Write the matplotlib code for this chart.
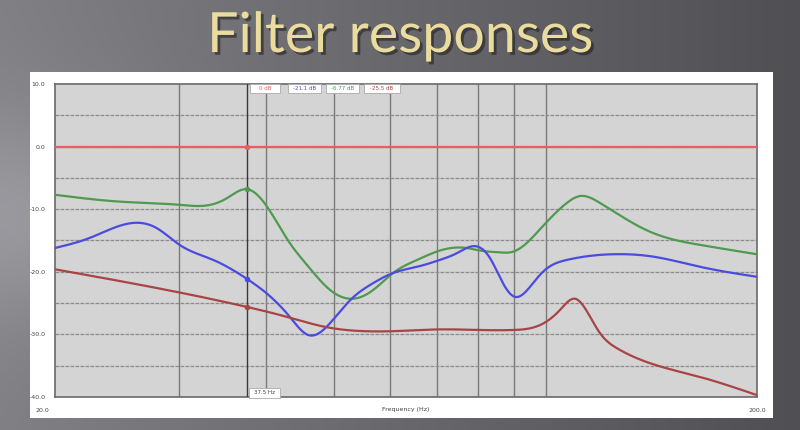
import numpy as np
import matplotlib
matplotlib.use("Agg")
import matplotlib.pyplot as plt
import matplotlib.patheffects as pe
from matplotlib.patches import Rectangle

# Data (Hz, dB)
flat_f = [20.0, 200.0]
flat_db = [0.0, 0.0]

green_f = [20.0, 24.8, 30.1, 33.3, 35.2, 37.5, 40.1, 43.2, 45.7, 49.3, 53.2,
           56.8, 60.6, 65.6, 70.7, 77.2, 80.6, 86.1, 89.8, 95.0, 99.1, 107.2,
           111.9, 119.5, 140.8, 165.9, 200.0]
green_db = [-7.7, -8.8, -9.3, -9.3, -8.2, -6.8, -9.6, -15.4, -18.9, -22.9, -24.3,
            -22.9, -20.2, -18.1, -16.6, -16.2, -16.6, -16.9, -16.8, -14.9, -12.7, -9.0,
            -7.9, -9.0, -13.6, -15.7, -17.2]

blue_f = [20.0, 22.4, 25.8, 27.9, 30.1, 33.6, 37.5, 40.1, 43.2, 45.9, 49.3,
          52.7, 56.8, 60.6, 65.6, 70.7, 74.8, 79.3, 83.3, 86.9, 90.4, 95.0,
          99.1, 107.2, 119.5, 130.5, 140.8, 165.9, 200.0]
blue_db = [-16.2, -14.6, -12.2, -13.0, -15.7, -18.1, -21.1, -23.5, -27.2, -30.1, -28.2,
           -24.5, -21.8, -20.2, -19.2, -18.1, -17.0, -15.9, -17.8, -21.8, -24.0, -22.4,
           -20.0, -18.1, -17.3, -17.2, -17.5, -19.2, -20.8]

red_f = [20.0, 37.5, 42.8, 48.5, 55.7, 60.0, 70.7, 80.6, 89.8, 98.2, 104.8,
         110.1, 114.9, 119.5, 126.3, 140.8, 165.9, 200.0]
red_db = [-19.6, -25.6, -27.2, -28.8, -29.5, -29.5, -29.2, -29.3, -29.3, -28.5, -26.1,
          -24.3, -26.6, -29.8, -32.2, -34.6, -36.8, -39.7]

cursor_hz = 37.5
readouts = ["0 dB", "-21.1 dB", "-6.77 dB", "-25.5 dB"]
y_ticks = [10, 0, -10, -20, -30, -40]
grid_hz = [30, 40, 50, 60, 70, 80, 90, 100]

c_flat = "#e26060"
c_green = "#4f9a4f"
c_blue = "#4b4be0"
c_red = "#a84444"


def smooth(f, db, n=800):
    # natural cubic spline through the read points, in log-frequency
    x = np.log10(f)
    y = np.asarray(db, float)
    m = len(x)
    h = np.diff(x)
    A = np.zeros((m, m))
    r = np.zeros(m)
    A[0, 0] = A[-1, -1] = 1
    for i in range(1, m - 1):
        A[i, i - 1] = h[i - 1]
        A[i, i] = 2 * (h[i - 1] + h[i])
        A[i, i + 1] = h[i]
        r[i] = 6 * ((y[i + 1] - y[i]) / h[i] - (y[i] - y[i - 1]) / h[i - 1])
    M = np.linalg.solve(A, r)
    xs = np.linspace(x[0], x[-1], n)
    k = np.clip(np.searchsorted(x, xs) - 1, 0, m - 2)
    a, b = x[k], x[k + 1]
    hk = b - a
    ys = (M[k] * (b - xs) ** 3 / (6 * hk) + M[k + 1] * (xs - a) ** 3 / (6 * hk)
          + (y[k] / hk - M[k] * hk / 6) * (b - xs) + (y[k + 1] / hk - M[k + 1] * hk / 6) * (xs - a))
    return 10 ** xs, ys


fig = plt.figure(figsize=(8, 4.3), dpi=100)

# slide background
bg = fig.add_axes([0, 0, 1, 1], zorder=0)
yy, xx = np.mgrid[1:0:200j, 0:1:300j]
g = 0.50 - 0.19 * xx + 0.10 * np.exp(-((xx - 0.03) ** 2 / 0.04 + (yy - 0.5) ** 2 / 0.06))
rgb = np.clip(np.dstack([g, g, g + 0.02]), 0, 1)
bg.imshow(rgb, aspect="auto", extent=[0, 1, 0, 1])
# white panel of the screenshot
bg.add_patch(Rectangle((30 / 800, 1 - 418 / 430), 743 / 800, 346 / 430,
                       facecolor="white", edgecolor="none"))
bg.set_xlim(0, 1); bg.set_ylim(0, 1)
bg.axis("off")

fig.text(0.5, 0.915, "Filter responses", ha="center", va="center", fontsize=40,
         family="Lato", color="#eadb9e",
         path_effects=[pe.withSimplePatchShadow(offset=(2, -2), shadow_rgbFace="#222222", alpha=0.6)])

ax = fig.add_axes([55 / 800, 1 - 397 / 430, 702 / 800, 313 / 430], zorder=2)
ax.set_facecolor("#d4d4d4")
ax.set_xscale("log")
ax.set_xlim(20, 200)
ax.set_ylim(-40, 10)

for h in grid_hz:
    ax.axvline(h, color="#7a7a7a", lw=1.0, zorder=1)
for v in range(-35, 10, 5):
    ax.axhline(v, color="#8c8c8c", lw=0.9, ls=(0, (3, 1)), zorder=1)

ax.set_xticks([])
ax.set_xticks([], minor=True)
ax.set_yticks(y_ticks)
ax.set_yticklabels([f"{t:.1f}" for t in y_ticks], fontsize=4.5, color="#444444")
ax.tick_params(axis="y", length=0, pad=7)
for s in ax.spines.values():
    s.set_color("#6a6a6a")
    s.set_linewidth(1.2)

ax.plot(flat_f, flat_db, color=c_flat, lw=1.6, zorder=3)
for f, d, c in [(green_f, green_db, c_green), (blue_f, blue_db, c_blue), (red_f, red_db, c_red)]:
    sx, sy = smooth(f, d)
    ax.plot(sx, sy, color=c, lw=1.6, zorder=3)

# cursor
ax.axvline(cursor_hz, color="#3a3a3a", lw=1.0, zorder=4)
vals = [0.0, np.interp(np.log10(cursor_hz), np.log10(blue_f), blue_db),
        np.interp(np.log10(cursor_hz), np.log10(green_f), green_db),
        np.interp(np.log10(cursor_hz), np.log10(red_f), red_db)]
for v, c in zip(vals, [c_flat, c_blue, c_green, c_red]):
    ax.plot([cursor_hz], [v], "o", ms=3, color=c, zorder=5)

box_cols = [c_flat, c_blue, c_green, c_red]
bx = [250, 288, 326, 364]
bw = [30, 33, 33, 36]
for x0, w, t, c in zip(bx, bw, readouts, box_cols):
    fig.patches.append(Rectangle((x0 / 800, 1 - 93 / 430), w / 800, 9 / 430,
                                 transform=fig.transFigure, facecolor="white",
                                 edgecolor="#aaaaaa", lw=0.6, zorder=5))
    fig.text((x0 + w / 2) / 800, 1 - 88.5 / 430, t, fontsize=4, color=c,
             ha="center", va="center", zorder=6)

fig.patches.append(Rectangle((249 / 800, 1 - 398 / 430), 31 / 800, 10 / 430,
                             transform=fig.transFigure, facecolor="white",
                             edgecolor="#aaaaaa", lw=0.6, zorder=5))
fig.text(264 / 800, 1 - 393 / 430, "37.5 Hz", fontsize=4, color="#444444",
         ha="center", va="center", zorder=6)

fig.text(42 / 800, 1 - 410 / 430, "20.0", fontsize=4.5, color="#444444", ha="center", va="center")
fig.text(757 / 800, 1 - 410 / 430, "200.0", fontsize=4.5, color="#444444", ha="center", va="center")
fig.text(406 / 800, 1 - 410 / 430, "Frequency (Hz)", fontsize=4.5, color="#444444", ha="center", va="center")

fig.savefig("out.png", dpi=100)
